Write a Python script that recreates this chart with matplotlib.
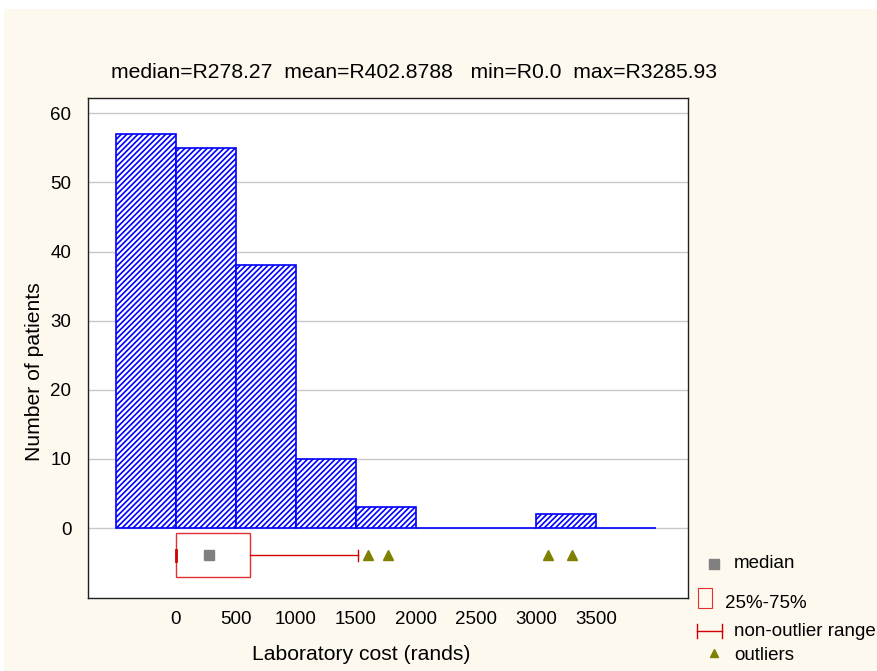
import matplotlib.pyplot as plt
from matplotlib.patches import Rectangle
from matplotlib.lines import Line2D

plt.rcParams['font.family'] = ['Liberation Sans', 'DejaVu Sans']
plt.rcParams['hatch.linewidth'] = 1.2

# histogram bins (left edges) and counts
bin_left = [-500, 0, 500, 1000, 1500, 2000, 2500, 3000, 3500]
counts = [57, 55, 38, 10, 3, 0, 0, 2, 0]
bin_width = 500

# box plot summary
q1, q3 = 0, 617
median = 278.27
whisker_lo, whisker_hi = 0, 1517
outliers = [1600, 1767, 3100, 3300]
box_y = -3.9

title = "median=R278.27  mean=R402.8788   min=R0.0  max=R3285.93"
legend_labels = ["median", "25%-75%", "non-outlier range", "outliers"]

W, H = 878, 671
fig = plt.figure(figsize=(W / 100, H / 100), dpi=100, facecolor='white')
fig.patches.append(Rectangle((4 / W, 0), 1, 1 - 9 / H, transform=fig.transFigure,
                             facecolor='#FEF9EF', edgecolor='none', zorder=-10))

ax = fig.add_axes([88 / W, 1 - 598 / H, 600 / W, 500 / H])
ax.set_facecolor('white')

ax.bar(bin_left, counts, width=bin_width, align='edge', facecolor='white',
       edgecolor='#0000FF', hatch='//////', linewidth=1.2, zorder=3)

# box
ax.add_patch(Rectangle((q1, box_y - 3.2), q3 - q1, 6.4, facecolor='none',
                       edgecolor='#E03030', linewidth=1.0, zorder=4))
ax.plot([q3, whisker_hi], [box_y, box_y], color='#D00000', lw=1.0, zorder=4)
ax.plot([whisker_hi, whisker_hi], [box_y - 0.8, box_y + 0.8], color='#D00000', lw=1.0, zorder=4)
ax.plot([whisker_lo, whisker_lo], [box_y - 0.8, box_y + 0.8], color='#D00000', lw=2.0, zorder=4)
ax.plot([median], [box_y], marker='s', color='#808080', markersize=7, ls='none', zorder=5)
ax.plot(outliers, [box_y] * len(outliers), marker='^', color='#808000', markersize=7,
        ls='none', zorder=5)

ax.set_xlim(-733, 4267)
ax.set_ylim(-10.1, 62.2)
ax.set_xticks([0, 500, 1000, 1500, 2000, 2500, 3000, 3500])
ax.set_yticks([0, 10, 20, 30, 40, 50, 60])
ax.tick_params(length=0, labelsize=13.5)
ax.tick_params(axis='y', pad=12)
ax.tick_params(axis='x', pad=9)
ax.yaxis.grid(True, color='#C8C8C8', lw=1.0, zorder=0)
ax.set_axisbelow(True)
for s in ax.spines.values():
    s.set_color('#202020')
    s.set_linewidth(1.0)

fig.text(414 / W, 1 - 73 / H, title, ha='center', va='center', fontsize=15.2)
fig.text(361 / W, 1 - 655 / H, "Laboratory cost (rands)", ha='center', va='center',
         fontsize=15.2)
fig.text(35 / W, 1 - 372 / H, "Number of patients", ha='center', va='center',
         fontsize=15.2, rotation=90)

# legend drawn by hand in figure pixels
tf = fig.transFigure
def fx(x): return x / W
def fy(y): return 1 - y / H

fig.add_artist(Line2D([fx(714)], [fy(564)], marker='s', color='#808080', ls='none',
                      markersize=7, transform=tf))
fig.add_artist(Rectangle((fx(698), fy(608)), 14 / W, 20 / H, facecolor='none',
                         edgecolor='#E03030', lw=0.8, transform=tf))
fig.add_artist(Line2D([fx(697), fx(722)], [fy(631), fy(631)], color='#D00000', lw=1.0,
                      transform=tf))
for xx in (697, 722):
    fig.add_artist(Line2D([fx(xx), fx(xx)], [fy(624), fy(638)], color='#D00000', lw=1.0,
                          transform=tf))
fig.add_artist(Line2D([fx(714)], [fy(653)], marker='^', color='#808000', ls='none',
                      markersize=6, transform=tf))
for lab, xx, yy in zip(legend_labels, [734, 725, 734, 734], [564, 603, 631, 655]):
    fig.text(fx(xx), fy(yy), lab, ha='left', va='center', fontsize=13.5)

fig.savefig('out.png', dpi=100, facecolor=fig.get_facecolor())
